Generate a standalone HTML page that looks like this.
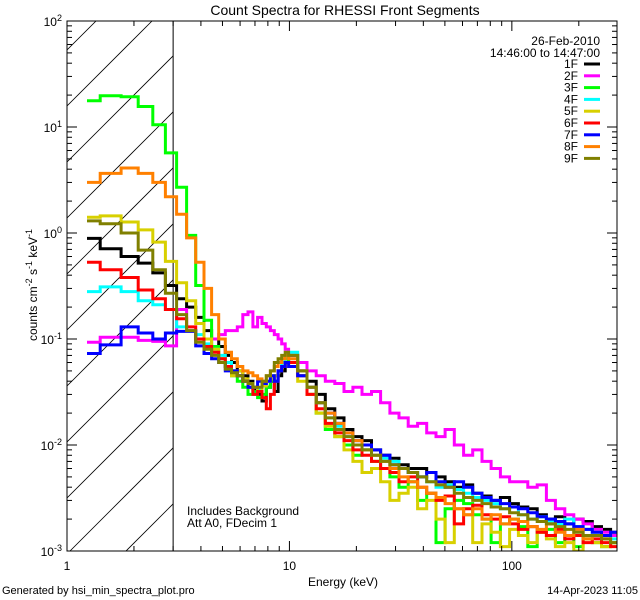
<!DOCTYPE html>
<html><head><meta charset="utf-8">
<style>
html,body{margin:0;padding:0;background:#fff;width:640px;height:600px;overflow:hidden;}
svg{display:block;font-family:"Liberation Sans",sans-serif;}
</style></head>
<body>
<svg id="chart" width="640" height="600" viewBox="0 0 640 600">
<text x="345" y="15" text-anchor="middle" font-size="14">Count Spectra for RHESSI Front Segments</text>
<text x="600" y="45" text-anchor="end" font-size="12">26-Feb-2010</text>
<text x="600" y="57" text-anchor="end" font-size="12">14:46:00 to 14:47:00</text>
<text x="187" y="515" font-size="12">Includes Background</text>
<text x="187" y="527" font-size="12">Att A0, FDecim 1</text>
<text x="343" y="586" text-anchor="middle" font-size="12">Energy (keV)</text>
<text transform="translate(37,285) rotate(-90)" text-anchor="middle" font-size="12">counts cm<tspan font-size="9" dy="-5">-2</tspan><tspan dy="5"> s</tspan><tspan font-size="9" dy="-5">-1</tspan><tspan dy="5"> keV</tspan><tspan font-size="9" dy="-5">-1</tspan></text>
<text x="2" y="594" font-size="11">Generated by hsi_min_spectra_plot.pro</text>
<text x="638" y="594" text-anchor="end" font-size="11">14-Apr-2023 11:05</text>
</svg>
<script>
const edges = [1.23,1.41,1.75,2.09,2.43,2.77,3.11,3.45,3.79,4.13,4.47,4.81,5.15,5.49,5.83,6.17,6.51,6.85,7.19,7.53,7.87,8.21,8.55,8.89,9.23,9.57,9.91,
10.9,12.0,13.2,14.5,16.0,17.6,19.3,21.2,23.4,25.7,28.3,31.1,34.2,37.7,41.4,45.6,50.1,55.1,60.7,66.7,73.4,80.7,88.8,97.7,107,118,130,143,157,173,190,209,230,253,278,300];
const seriesNames = ["1F","2F","3F","4F","5F","6F","7F","8F","9F"];
const seriesColors = ["#000000","#ff00ff","#00ff00","#00ffff","#d8d000","#ff0000","#0000ff","#ff8000","#808000"];
const s1F = [0.89,0.71,0.6,0.52,0.42,0.32,0.24,0.2,0.16,0.12,
0.1,0.085,0.07,0.06,0.05,0.045,0.04,0.034,0.03,0.026,0.035,0.04,0.032,0.045,0.05,0.06,
0.07,0.05,0.04,0.03,0.022,0.018,0.014,0.012,0.011,0.009,0.008,0.0075,0.0065,0.006,0.006,0.0055,0.005,0.0045,0.004,0.0042,0.0035,0.0033,0.003,0.0032,0.0028,0.0026,0.0025,0.0022,0.002,0.0021,0.0018,0.002,0.0019,0.0017,0.0016,0.0015];
const s2F = [0.093,0.104,0.104,0.097,0.095,0.086,0.19,0.12,0.1,0.1,
0.1,0.11,0.12,0.12,0.13,0.17,0.18,0.13,0.16,0.14,0.13,0.12,0.11,0.1,0.09,0.08,
0.07,0.06,0.05,0.045,0.04,0.038,0.032,0.035,0.03,0.032,0.025,0.02,0.018,0.015,0.016,0.013,0.012,0.014,0.01,0.008,0.009,0.007,0.006,0.005,0.0045,0.0045,0.004,0.0042,0.003,0.0025,0.0022,0.002,0.0018,0.0016,0.0015,0.0014];
const s3F = [17.7,19.7,19.3,15.6,10.5,5.7,2.7,0.95,0.32,0.15,
0.085,0.065,0.055,0.045,0.04,0.035,0.03,0.032,0.028,0.03,0.035,0.04,0.045,0.05,0.055,0.065,
0.06,0.045,0.03,0.02,0.014,0.012,0.01,0.008,0.009,0.007,0.006,0.005,0.004,0.0045,0.003,0.0035,0.0012,0.0025,0.003,0.0028,0.0022,0.002,0.0012,0.0018,0.002,0.0017,0.0011,0.0015,0.0016,0.0012,0.0014,0.0011,0.0013,0.0012,0.0011,0.0012];
const s4F = [0.28,0.31,0.28,0.23,0.21,0.19,0.13,0.12,0.11,0.09,
0.08,0.07,0.06,0.05,0.045,0.04,0.035,0.03,0.034,0.038,0.04,0.042,0.045,0.05,0.06,0.07,
0.075,0.05,0.035,0.025,0.018,0.015,0.012,0.01,0.009,0.008,0.0075,0.007,0.006,0.0055,0.005,0.0045,0.004,0.0042,0.0038,0.0035,0.0032,0.003,0.0028,0.0025,0.0026,0.0022,0.002,0.0021,0.0019,0.0018,0.002,0.0017,0.0016,0.0015,0.0014,0.0013];
const s5F = [1.41,1.45,1.27,1.07,0.82,0.54,0.34,0.23,0.14,0.1,
0.08,0.065,0.055,0.045,0.05,0.042,0.038,0.035,0.032,0.036,0.04,0.042,0.045,0.05,0.055,0.06,
0.055,0.04,0.03,0.02,0.015,0.012,0.009,0.007,0.0055,0.006,0.0045,0.003,0.0035,0.004,0.0025,0.003,0.002,0.0012,0.0025,0.0022,0.0012,0.0018,0.0015,0.0011,0.0016,0.0014,0.0012,0.0015,0.0013,0.0011,0.0012,0.001,0.0013,0.0012,0.0011,0.0012];
const s6F = [0.53,0.45,0.38,0.29,0.24,0.19,0.155,0.13,0.1,0.085,
0.075,0.065,0.055,0.05,0.045,0.04,0.035,0.03,0.032,0.028,0.022,0.03,0.04,0.05,0.055,0.06,
0.06,0.045,0.03,0.022,0.016,0.013,0.011,0.009,0.008,0.007,0.006,0.0055,0.0045,0.005,0.004,0.0035,0.003,0.0033,0.0018,0.0025,0.0027,0.0022,0.002,0.0021,0.0018,0.0016,0.0017,0.0015,0.0014,0.0016,0.0013,0.0014,0.0012,0.0013,0.0012,0.0011];
const s7F = [0.073,0.088,0.13,0.114,0.1,0.114,0.118,0.118,0.086,0.073,
0.065,0.06,0.05,0.05,0.045,0.04,0.035,0.035,0.04,0.038,0.04,0.045,0.04,0.05,0.055,0.06,
0.055,0.045,0.035,0.025,0.02,0.016,0.013,0.011,0.01,0.009,0.008,0.0065,0.006,0.0055,0.005,0.0055,0.0045,0.004,0.0045,0.004,0.0035,0.0032,0.003,0.0028,0.0026,0.0025,0.0023,0.0021,0.002,0.0019,0.0018,0.0017,0.0016,0.0015,0.0014,0.0015];
const s8F = [3.0,3.65,4.1,3.65,3.0,2.2,1.5,0.9,0.53,0.3,
0.17,0.1,0.075,0.065,0.055,0.05,0.048,0.045,0.042,0.04,0.045,0.05,0.055,0.06,0.065,0.07,
0.065,0.05,0.035,0.025,0.02,0.016,0.013,0.011,0.009,0.008,0.007,0.006,0.005,0.0045,0.004,0.0035,0.0032,0.0028,0.0025,0.0022,0.0025,0.002,0.0022,0.0018,0.002,0.0019,0.0017,0.0016,0.0018,0.0015,0.0014,0.0016,0.0013,0.0014,0.0013,0.0012];
const s9F = [1.3,1.22,1.0,0.69,0.45,0.27,0.17,0.12,0.093,0.08,
0.07,0.06,0.052,0.048,0.045,0.04,0.038,0.035,0.035,0.04,0.045,0.05,0.06,0.065,0.07,0.075,
0.07,0.05,0.035,0.025,0.018,0.014,0.012,0.01,0.009,0.008,0.007,0.0065,0.006,0.0055,0.005,0.0045,0.0042,0.004,0.0035,0.0032,0.003,0.0028,0.0026,0.0025,0.0023,0.0022,0.002,0.0019,0.0018,0.0017,0.0016,0.0015,0.0014,0.0014,0.0013,0.0012];
const seriesValues = [s1F,s2F,s3F,s4F,s5F,s6F,s7F,s8F,s9F];
const xTickLabels = ["1","10","100"];
const yTickExps = ["-3","-2","-1","0","1","2"];

const NS = "http://www.w3.org/2000/svg";
const svg = document.getElementById("chart");
const L = 67, R = 617, T = 21, B = 551;
const xMin = 1, xMax = 297, yMinE = -3, yMaxE = 2;
function xs(e){ return L + (Math.log10(e) - Math.log10(xMin)) / (Math.log10(xMax) - Math.log10(xMin)) * (R - L); }
function ys(v){ return B - (Math.log10(v) - yMinE) / (yMaxE - yMinE) * (B - T); }
function mk(tag, attrs, parent){ const el = document.createElementNS(NS, tag); for (const k in attrs) el.setAttribute(k, attrs[k]); (parent || svg).appendChild(el); return el; }

const defs = mk("defs", {});
const cp = mk("clipPath", {id: "plotclip"}, defs);
mk("rect", {x: L, y: T, width: R - L, height: B - T}, cp);
const hc = mk("clipPath", {id: "hatchclip"}, defs);
mk("rect", {x: L, y: T, width: xs(3) - L, height: B - T}, hc);

const hatch = mk("g", {"clip-path": "url(#hatchclip)", stroke: "#000", "stroke-width": "0.8"});


for (let c = -60; c < 700; c += 56) {
  mk("line", {x1: L, y1: c + 110, x2: L + 110, y2: c}, hatch);
}
const vline = mk("line", {x1: xs(3), y1: T, x2: xs(3), y2: B, stroke: "#000", "stroke-width": "1"});



const plotG = mk("g", {"clip-path": "url(#plotclip)"});
seriesValues.forEach((vals, si) => {
  let d = "";
  for (let i = 0; i < vals.length; i++) {
    const y = ys(vals[i]);
    const x0 = xs(edges[i]), x1 = xs(edges[i + 1]);
    d += (i === 0 ? "M" : "L") + x0.toFixed(1) + "," + y.toFixed(1) + "L" + x1.toFixed(1) + "," + y.toFixed(1);
  }
  const p = mk("path", {d: d, fill: "none", stroke: seriesColors[si], "stroke-width": "3", "stroke-linejoin": "miter"}, plotG);
  
  
});

const box = mk("rect", {x: L, y: T, width: R - L, height: B - T, fill: "none", stroke: "#000", "stroke-width": "1"});



const xt = mk("g", {stroke: "#000", "stroke-width": "1"});


for (let dec = 1; dec <= 100; dec *= 10) {
  for (let m = 1; m <= 9; m++) {
    const e = dec * m; if (e > xMax) break;
    const x = xs(e), len = m === 1 ? 10 : 5;
    mk("line", {x1: x, y1: B, x2: x, y2: B - len}, xt);
    mk("line", {x1: x, y1: T, x2: x, y2: T + len}, xt);
  }
}
xTickLabels.forEach(lab => {
  const t = mk("text", {x: xs(Number(lab)), y: 570, "text-anchor": "middle", "font-size": "12"});
  t.textContent = lab;
  
  
});
const yt = mk("g", {stroke: "#000", "stroke-width": "1"});


for (let ex = yMinE; ex < yMaxE; ex++) {
  for (let m = 1; m <= 9; m++) {
    const y = ys(m * Math.pow(10, ex)), len = m === 1 ? 10 : 5;
    mk("line", {x1: L, y1: y, x2: L + len, y2: y}, yt);
    mk("line", {x1: R, y1: y, x2: R - len, y2: y}, yt);
  }
}
yTickExps.forEach(ex => {
  const y = ys(Math.pow(10, Number(ex)));
  const t = mk("text", {x: 62, y: y + 5, "text-anchor": "end", "font-size": "12"});
  
  
  const a = mk("tspan", {}, t); a.textContent = "10";
  const b = mk("tspan", {dy: "-5", "font-size": "9"}, t); b.textContent = ex;
});

seriesNames.forEach((nm, i) => {
  const y = 64 + i * 11.8;
  const g = mk("g", {});
  
  
  const t = mk("text", {x: 578, y: y + 4, "text-anchor": "end", "font-size": "12"}, g);
  t.textContent = nm;
  mk("line", {x1: 584, y1: y, x2: 600, y2: y, stroke: seriesColors[i], "stroke-width": "3"}, g);
});
</script>
</body></html>
